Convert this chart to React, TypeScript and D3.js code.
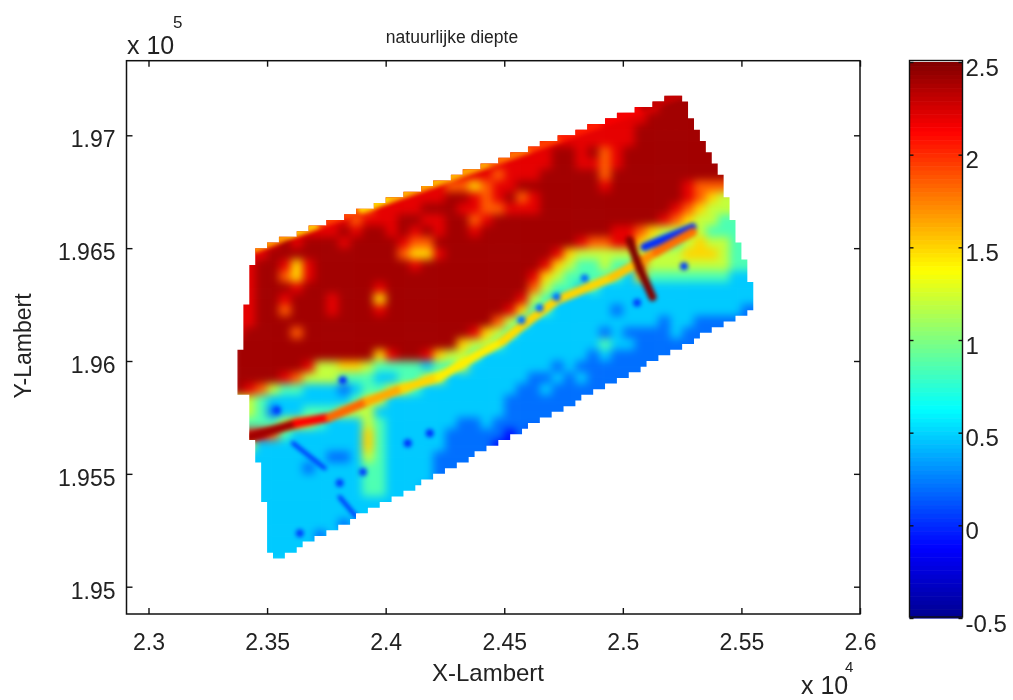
import { useEffect, useRef } from 'react';
import * as d3 from 'd3';

const W = 1013;
const H = 700;
const FONT = '"Liberation Sans", Arial, sans-serif';

// axis ticks (Lambert metres)
const xTicks = [23000, 23500, 24000, 24500, 25000, 25500, 26000];
const yTicks = [195000, 195500, 196000, 196500, 197000];
const barTicks = [-0.5, 0, 0.5, 1, 1.5, 2, 2.5];

// depth per 50 m cell: a digit is an index into depthLevels
// rows run north to south from y=197200, columns east from x=23350
const depthLevels = [-0.5, -0.1, 0.2, 0.47, 0.85, 1.2, 1.5, 1.85, 2.2, 2.4];
const depthRows = [
  '88888 88888 88888 88888 88888 88888 88888 99999 99999',
  '88888 88888 88888 88888 88888 88888 88888 89999 99999',
  '88888 88888 88888 88888 88888 88888 88888 99999 99999',
  '88888 88888 88888 88888 88888 88888 88889 99999 99999',
  '88888 88888 88888 88888 88888 88888 88889 99999 99999',
  '88888 88888 88888 88888 88888 88998 97899 99999 99999',
  '88888 88888 88888 88888 88888 88998 87899 99999 99999',
  '88888 88888 88888 88888 88788 89999 97999 99999 99999',
  '88888 88888 88888 88877 67889 99999 98999 99987 77777',
  '88888 88888 88888 88899 87897 89999 99999 99987 65555',
  '88888 88888 87888 89998 87788 89999 99999 99876 55555',
  '88888 88888 78889 98899 78999 99999 99999 98765 54444',
  '88888 88889 89989 89899 89999 99999 99887 65555 44444',
  '88889 89998 99998 77999 99999 99998 77886 54456 55444',
  '88899 99999 99997 66899 99999 99865 55555 55566 65444',
  '88998 68999 99999 89999 99999 98654 45447 55555 55444',
  '88997 68999 99999 99999 99999 86544 44436 44444 44333',
  '88999 89999 99899 99999 99999 75443 43333 33333 33333',
  '88998 99989 99699 99999 99998 54333 33333 33333 33333',
  '88997 99989 99899 99999 99986 44333 33233 33333 33322',
  '88999 99999 99999 99999 99754 33333 33333 32332 22222',
  '89999 79999 99999 99999 86543 33333 32322 22322 22222',
  '99999 99999 99999 99996 55433 33333 34332 22222 22222',
  '99999 99999 99689 98655 43333 33333 23222 22222 22222',
  '99999 98556 65444 43445 33333 33232 22222 22222 22222',
  '99998 75554 44334 45533 33333 22323 22222 22222 22222',
  '98754 43332 34455 43333 33332 23222 22222 22222 22222',
  '55433 33333 45533 33333 33322 22222 22222 22222 22222',
  '55423 34445 55333 33333 33322 22222 22222 22222 22222',
  '44445 65433 35433 33332 23222 22222 22222 22222 22222',
  '88874 33333 36433 33322 22212 11222 22222 22222 22222',
  '55333 33333 36433 33322 22112 22222 22222 22222 22222',
  '33333 33322 35433 33222 22222 22222 22222 22222 22222',
  '33333 32333 34433 33222 22222 22222 22222 22222 22222',
  '33333 33333 34433 33222 22222 22222 22222 22222 22222',
  '33333 33333 34433 32222 22222 22222 22222 22222 22222',
  '33333 33333 33333 33222 22222 22222 22222 22222 22222',
  '33333 33333 33322 33222 22222 22222 22222 22222 22222',
  '33333 33332 33322 33222 22222 22222 22222 22222 22222',
  '33333 33233 33322 33222 22222 22222 22222 22222 22222',
  '33333 33333 33322 33222 22222 22222 22222 22222 22222',
  '33333 33333 33322 33222 22222 22222 22222 22222 22222',
];

// survey outline
const outlineX = [23455, 25240, 25410, 25565, 23530, 23505, 23480, 23440, 23410, 23380, 23380, 23405, 23405, 23430, 23430, 23455];
const outlineY = [196500, 197185, 196830, 196240, 195115, 195175, 195460, 195640, 195860, 195860, 196060, 196060, 196260, 196260, 196430, 196430];

// narrow features, thinner than a 50 m cell
const fringeX = [23450, 23600, 23730, 23840, 23900, 24030, 24110, 24200, 24330, 24450, 24620, 24750, 24920, 25090, 25240];
const fringeY = [196500, 196562, 196611, 196652, 196675, 196724, 196754, 196788, 196837, 196882, 196946, 196995, 197059, 197123, 197180];
const fringeDepth = [1.85, 1.5, 1.6, 2.3, 1.5, 1.5, 1.7, 1.6, 1.6, 1.7, 1.9, 2.0, 2.1, 2.2, 2.4];

const ridgeX = [23428, 23626, 23765, 23925, 24076, 24224, 24384, 24493, 24573, 24721, 24957, 25070, 25142, 25294];
const ridgeY = [195663, 195725, 195751, 195822, 195880, 195929, 196026, 196088, 196155, 196270, 196372, 196438, 196483, 196571];
const ridgeDepth = [2.5, 2.3, 1.95, 1.7, 1.55, 1.45, 1.4, 1.45, 1.5, 1.5, 1.5, 1.6, 1.8, 1.8];

const trenchX = [25091, 25294];
const trenchY = [196505, 196593];
const trenchDepth = [0, 0];

const channelX = [25028, 25070, 25125];
const channelY = [196536, 196412, 196283];
const channelDepth = [2.5, 2.5, 2.5];

const scarAX = [23609, 23743];
const scarAY = [195636, 195525];
const scarBX = [23806, 23878];
const scarBY = [195397, 195308];

const spotX = [23819, 23541, 24186, 24093, 23904, 23806, 23638, 24573, 24649, 24721, 24839, 25060, 25258];
const spotY = [195915, 195782, 195680, 195636, 195508, 195459, 195237, 196181, 196235, 196283, 196367, 196258, 196420];
const spotDepth = [0, 0.05, 0, 0, 0.05, 0.05, 0.05, 0.2, 0.2, 0.2, 0.2, 0.05, 0.05];

const x = d3.scaleLinear().domain([23000, 26000]).range([148.5, 860]);
const y = d3.scaleLinear().domain([195000, 197000]).range([586.7, 135.3]);
const barY = d3.scaleLinear().domain([-0.5, 2.5]).range([618, 62]);

// matlab jet
const jet = d3
  .scaleLinear<string>()
  .domain([-0.5, -0.125, 0.625, 1.375, 2.125, 2.5])
  .range(['#00008f', '#0000ff', '#00ffff', '#ffff00', '#ff0000', '#800000'])
  .clamp(true);

const outline = outlineX.map((d, i) => [d, outlineY[i]] as [number, number]);

// staircase edge: every 25 m cell whose centre falls inside the outline
let maskPath = '';
for (let gx = 23350; gx < 25600; gx += 25) {
  for (let gy = 195100; gy < 197200; gy += 25) {
    if (d3.polygonContains(outline, [gx + 12.5, gy + 12.5])) {
      const x0 = x(gx);
      const y0 = y(gy + 25);
      maskPath += `M${x0},${y0}H${x(gx + 25)}V${y(gy)}H${x0}Z`;
    }
  }
}

const cells = depthRows.flatMap((row, r) =>
  row
    .replace(/ /g, '')
    .split('')
    .map((ch, c) => ({ gx: 23350 + c * 50, gy: 197200 - r * 50, depth: depthLevels[+ch] }))
);

function transect(xs: number[], ys: number[], depths: number[], width: number, name: string) {
  return d3.pairs(d3.range(xs.length)).map(([a, b]) => (
    <line
      key={`${name}-${a}`}
      x1={x(xs[a])}
      y1={y(ys[a])}
      x2={x(xs[b])}
      y2={y(ys[b])}
      stroke={jet((depths[a] + depths[b]) / 2)}
      strokeWidth={width}
      strokeLinecap="round"
    />
  ));
}

const barSteps = d3.range(128);
const barTop = barY.range()[1];
const barLen = barY.range()[0] - barTop;

export default function App() {
  const axesRef = useRef<SVGGElement>(null);

  useEffect(() => {
    const g = d3.select(axesRef.current);
    g.selectAll('*').remove();

    const style = (sel: any) => {
      sel.select('.domain').remove();
      sel.selectAll('line').attr('stroke', '#111').attr('stroke-width', 1.4);
      sel.selectAll('text').attr('font-family', FONT).attr('font-size', 23).attr('fill', '#222');
    };

    // bottom and top
    g.append('g')
      .attr('transform', 'translate(0,614)')
      .call(d3.axisBottom(x).tickValues(xTicks).tickSize(-6).tickFormat(d => String(+d / 10000)))
      .call(style)
      .selectAll('text')
      .attr('y', 17)
      .attr('dy', '0.82em');
    g.append('g')
      .attr('transform', 'translate(0,60.7)')
      .call(d3.axisTop(x).tickValues(xTicks).tickSize(-6).tickFormat(() => ''))
      .call(style);

    // left and right
    g.append('g')
      .attr('transform', 'translate(126.5,0)')
      .call(d3.axisLeft(y).tickValues(yTicks).tickSize(-6).tickFormat(d => String(+d / 100000)))
      .call(style)
      .selectAll('text')
      .attr('x', -11)
      .attr('dy', '0.5em');
    g.append('g')
      .attr('transform', 'translate(860,0)')
      .call(d3.axisRight(y).tickValues(yTicks).tickSize(-6).tickFormat(() => ''))
      .call(style);

    // colorbar ticks
    g.append('g')
      .attr('transform', 'translate(962.5,0)')
      .call(d3.axisRight(barY).tickValues(barTicks).tickSize(-4).tickFormat(d => String(d)))
      .call(style)
      .selectAll('text')
      .attr('x', 3)
      .attr('dy', 13)
      .attr('font-size', 24);
    g.append('g')
      .attr('transform', 'translate(909.5,0)')
      .call(d3.axisLeft(barY).tickValues(barTicks).tickSize(-4).tickFormat(() => ''))
      .call(style);
  }, []);

  return (
    <svg
      width={W}
      height={H}
      style={{ position: 'absolute', left: 0, top: 0, background: '#fff' }}
    >
      <defs>
        <filter id="smooth" filterUnits="userSpaceOnUse" x="0" y="0" width={W} height={H} colorInterpolationFilters="sRGB">
          <feGaussianBlur stdDeviation="4" />
        </filter>
        <filter id="fine" filterUnits="userSpaceOnUse" x="0" y="0" width={W} height={H} colorInterpolationFilters="sRGB">
          <feGaussianBlur stdDeviation="2.3" />
        </filter>
        <filter id="soft" filterUnits="userSpaceOnUse" x="0" y="0" width={W} height={H} colorInterpolationFilters="sRGB">
          <feGaussianBlur stdDeviation="0.55" />
        </filter>
        <clipPath id="survey">
          <path d={maskPath} />
        </clipPath>
      </defs>

      <g filter="url(#soft)">
        <g clipPath="url(#survey)">
          <g filter="url(#smooth)">
            {cells.map(d => (
              <rect
                key={`${d.gx}-${d.gy}`}
                x={x(d.gx)}
                y={y(d.gy)}
                width={x(d.gx + 50) - x(d.gx) + 0.5}
                height={y(d.gy - 50) - y(d.gy) + 0.5}
                fill={jet(d.depth)}
              />
            ))}
          </g>
          <g filter="url(#fine)">
            {transect(fringeX, fringeY, fringeDepth, 9, 'fringe')}
            {transect(trenchX, trenchY, trenchDepth, 8, 'trench')}
            {transect(ridgeX, ridgeY, ridgeDepth, 9, 'ridge')}
            {transect(channelX, channelY, channelDepth, 8, 'channel')}
            {transect(scarAX, scarAY, [0, 0], 4, 'scarA')}
            {transect(scarBX, scarBY, [0, 0], 4, 'scarB')}
            {spotX.map((d, i) => (
              <circle key={i} cx={x(d)} cy={y(spotY[i])} r={4} fill={jet(spotDepth[i])} />
            ))}
          </g>
        </g>

        <rect x={126.5} y={60.7} width={733.5} height={553.3} fill="none" stroke="#111" strokeWidth={1.5} />

        {barSteps.map(i => (
          <rect
            key={i}
            x={909.5}
            y={barTop + (i * barLen) / 128}
            width={53}
            height={barLen / 128 + 0.6}
            fill={jet(2.5 - ((i + 0.5) * 3) / 128)}
          />
        ))}
        <rect x={909.5} y={60.5} width={53} height={556.5} fill="none" stroke="#111" strokeWidth={1.4} />

        <g ref={axesRef} />

        <g fontFamily={FONT} fill="#222">
          <text x={452} y={43} fontSize={17.5} textAnchor="middle">natuurlijke diepte</text>
          <text x={488} y={681} fontSize={24} textAnchor="middle">X-Lambert</text>
          <text transform="translate(31,346) rotate(-90)" fontSize={23} textAnchor="middle">Y-Lambert</text>
          <text x={127} y={54} fontSize={25}>x 10</text>
          <text x={173} y={28} fontSize={17}>5</text>
          <text x={801} y={694} fontSize={25}>x 10</text>
          <text x={845} y={672} fontSize={15}>4</text>
        </g>
      </g>
    </svg>
  );
}
